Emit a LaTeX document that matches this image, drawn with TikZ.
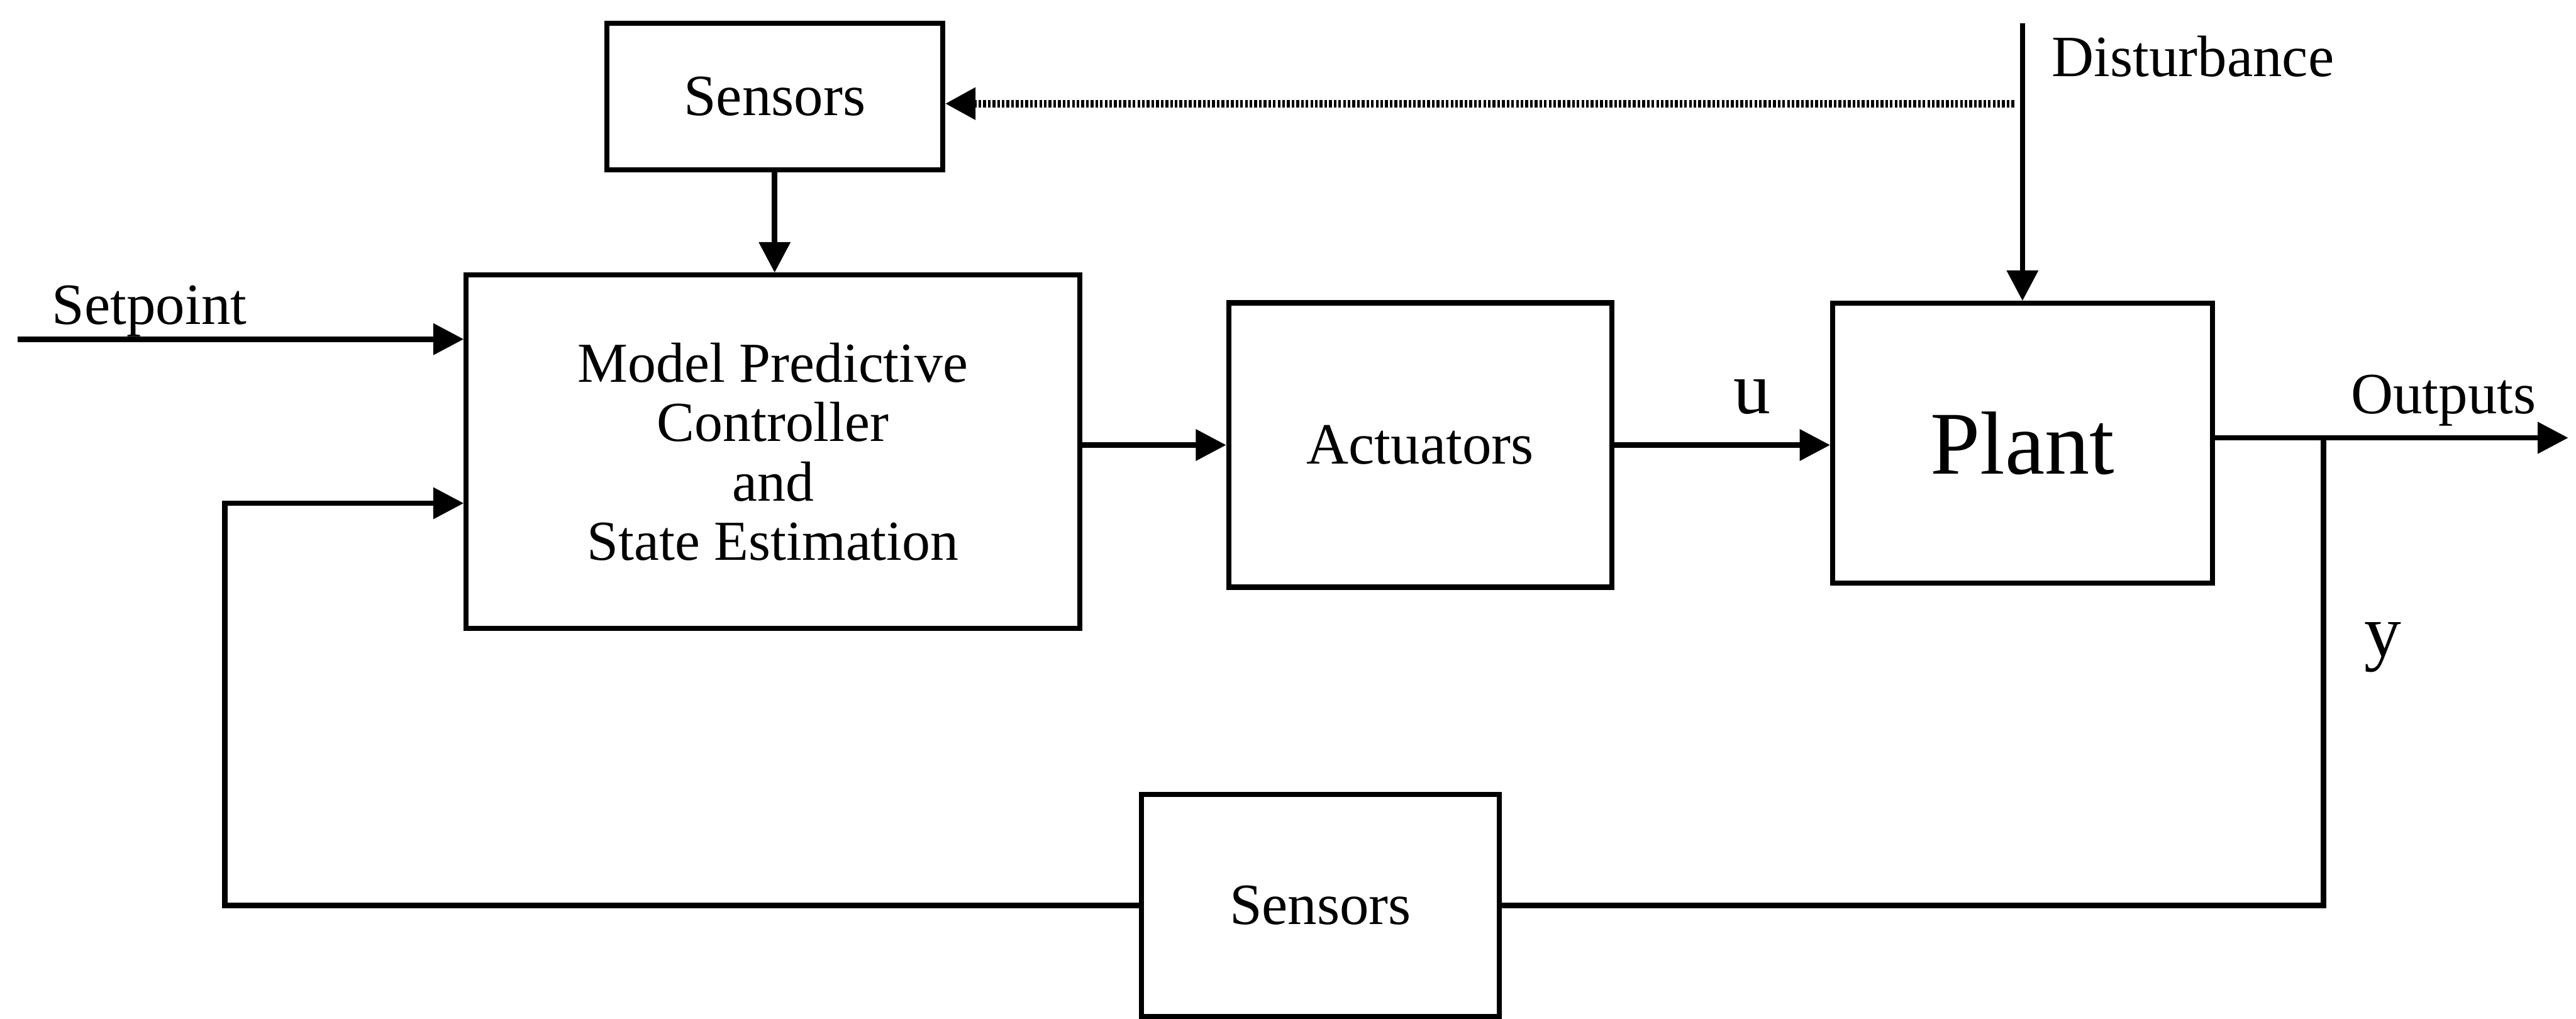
\documentclass[tikz,border=0pt]{standalone}
\usepackage{fontspec}
\setmainfont{Liberation Serif}
\usetikzlibrary{arrows.meta,positioning}

\begin{document}
\begin{tikzpicture}[>={Triangle[length=5.5mm,width=5.5mm]},line width=2.8pt,
  every node/.style={font=\fontsize{30}{31}\selectfont,inner sep=0pt},
  blk/.style={draw,line width=2.6pt}]
\useasboundingbox (0,0) rectangle (46.49,-18.38);
% blocks
\node[blk,minimum width=6.06cm,minimum height=2.64cm] (sens1) at (13.98,-1.74) {Sensors};
\node[blk,minimum width=11.07cm,minimum height=6.37cm,align=center,font=\fontsize{29}{30.5}\selectfont] (mpc) at (13.95,-8.15) {Model Predictive\\Controller\\and\\State Estimation};
\node[blk,minimum width=6.91cm,minimum height=5.13cm] (act) at (25.63,-8.03) {Actuators};
\node[blk,minimum width=6.85cm,minimum height=5.05cm,font=\fontsize{46}{50}\selectfont] (plant) at (36.5,-8.0) {Plant};
\node[blk,minimum width=6.46cm,minimum height=4.0cm] (sens2) at (23.83,-16.34) {Sensors};
\coordinate (sp) at (0.32,-6.12);
\coordinate (fb) at (4.06,-9.08);
\coordinate (dist) at (36.5,-0.42);
\coordinate (dot) at (36.35,-1.87);
\coordinate (out) at (46.35,-7.9);
\coordinate (tap) at (41.93,-7.9);
% signals
\draw[->] (sp) -- (sp -| mpc.west);
\draw[->] (sens2.west) -| (fb) -- (fb -| mpc.west);
\draw[->] (sens1.south) -- (sens1.south |- mpc.north);
\draw[->] (mpc.east |- act.west) -- (act.west);
\draw[->] (act.east) -- (act.east -| plant.west);
\draw[->] (dist) -- (dist |- plant.north);
\draw[->,line width=4pt,dash pattern=on 1.4pt off 1pt] (dot) -- (dot -| sens1.east);
\draw[->] (plant.east |- out) -- (out);
\draw (tap) |- (sens2.east);
% labels
\node[anchor=base west] (spl) at (0.89,-5.85) {Setpoint};
\node[anchor=base west] (distl) at (36.98,-1.38) {Disturbance};
\node[anchor=base west] (outl) at (42.38,-7.46) {Outputs};
\node[anchor=base,font=\fontsize{38}{40}\selectfont] (ul) at (31.62,-7.46) {u};
\node[anchor=base,font=\fontsize{38}{40}\selectfont] (yl) at (43.0,-11.84) {y};
\end{tikzpicture}
\end{document}
